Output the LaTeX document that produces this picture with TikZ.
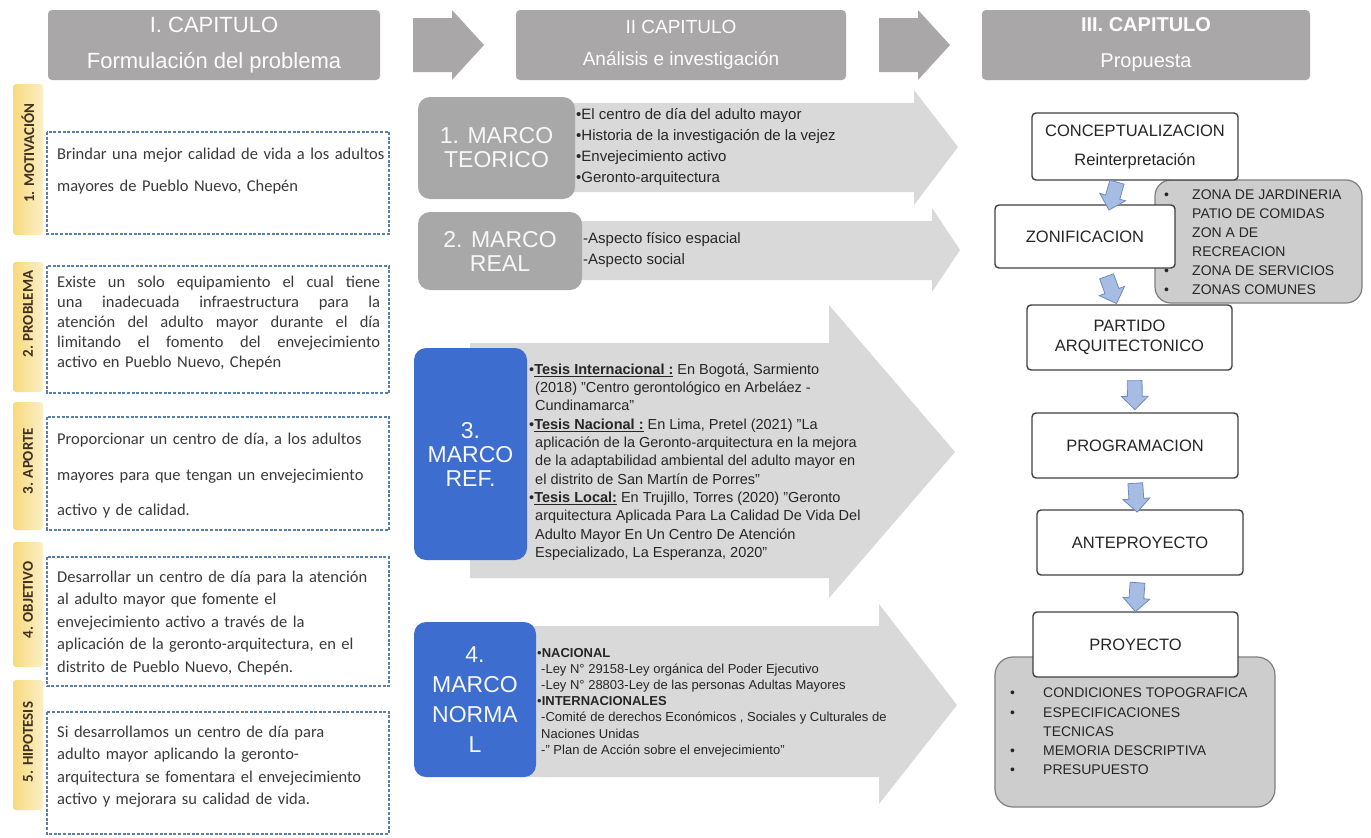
\documentclass[tikz,border=0pt]{standalone}
\usepackage{fontspec}
\setmainfont{Liberation Sans}
\newfontfamily\calib{Carlito}
\usetikzlibrary{shapes.arrows,calc}
\definecolor{hdrgray}{HTML}{A9A7A7}
\definecolor{mgray}{HTML}{A8A8A8}
\definecolor{mblue}{HTML}{3D6DCE}
\definecolor{lgray}{HTML}{D9D9D9}
\definecolor{tabyel}{HTML}{F8D97C}
\definecolor{tabyel2}{HTML}{FCEFC8}
\definecolor{dashcol}{HTML}{5C7EA6}
\definecolor{zgray}{HTML}{CDCDCD}
\definecolor{zborder}{HTML}{7F7F7F}
\definecolor{afill}{HTML}{A7BCE3}
\definecolor{adraw}{HTML}{6E8BC0}
\definecolor{txt}{HTML}{262626}
\definecolor{ltxt}{HTML}{3A3A3A}
\definecolor{tabtxt}{HTML}{3B3222}
\newcommand\jl[1]{\makebox[323pt][l]{#1}}
\begin{document}
\begin{tikzpicture}[x=1pt,y=-1pt,
  hdr/.style={fill=hdrgray, rounded corners=4pt, minimum height=70pt, text=white, align=center, inner sep=0pt},
  mbox/.style={fill=mgray, rounded corners=12pt, text=white!94!gray, align=center, inner sep=0pt, font=\fontsize{23}{24}\selectfont},
  mboxb/.style={mbox, fill=mblue},
  bigarrow/.style={fill=lgray},
  tabbox/.style={rounded corners=3pt, left color=tabyel, right color=tabyel2},
  tablbl/.style={rotate=90, font=\calib\bfseries\fontsize{15}{15}\selectfont, text=tabtxt, inner sep=0pt},
  dbox/.style={draw=dashcol, dash pattern=on 3pt off 1.6pt, line width=1.3pt},
  ltext/.style={anchor=west, align=left, inner sep=0pt, text width=335pt, text=ltxt},
  mtext/.style={anchor=west, align=left, inner sep=0pt, text=txt},
  rbox/.style={draw=black!75, line width=1.4pt, fill=white, rounded corners=4pt, align=center, inner sep=0pt, text=txt, font=\fontsize{16.5}{20}\selectfont},
  zbox/.style={draw=zborder, line width=1.2pt, fill=zgray, rounded corners=16pt},
  barrow/.style={single arrow, fill=afill, draw=adraw, line width=0.8pt, minimum height=29pt, minimum width=26pt, single arrow head extend=6pt, single arrow head indent=0pt, inner xsep=0pt, inner ysep=7pt}
]
\useasboundingbox (0,0) rectangle (1371,838);
\fill[white] (0,0) rectangle (1371,838);

% ---------- headers ----------
\node[hdr, minimum width=332pt, font=\fontsize{22}{36}\selectfont] (h1) at (214,45) {I. CAPITULO\\Formulación del problema};
\node[hdr, minimum width=330pt, font=\fontsize{19}{32}\selectfont] (h2) at (681,45) {II CAPITULO\\Análisis e investigación};
\node[hdr, minimum width=328pt, font=\fontsize{20}{36}\selectfont] (h3) at (1146,45) {\textbf{III. CAPITULO}\\Propuesta};
\fill[hdrgray] (413,18) -- (452,18) -- (452,10) -- (484,45) -- (452,80) -- (452,72) -- (413,72) -- cycle;
\fill[hdrgray] (879,18) -- (918,18) -- (918,10) -- (950,45) -- (918,80) -- (918,72) -- (879,72) -- cycle;

% ---------- left column ----------
\path[tabbox] (13,84) rectangle (43,235);
\path[tabbox] (13,262) rectangle (43,392);
\path[tabbox] (13,402) rectangle (43,530);
\path[tabbox] (13,542) rectangle (43,667);
\path[tabbox] (13,680) rectangle (43,810);
\node[tablbl] (l1) at (28,153) {1. MOTIVACIÓN};
\node[tablbl] (l2) at (28,314) {2. PROBLEMA};
\node[tablbl] (l3) at (28,461) {3. APORTE};
\node[tablbl] (l4) at (28,600) {4. OBJETIVO};
\node[tablbl] (l5) at (28,742) {5. HIPOTESIS};

\draw[dbox] (47,132) rectangle (389,234);
\draw[dbox] (47,266) rectangle (389,393);
\draw[dbox] (47,417) rectangle (389,530);
\draw[dbox] (47,557) rectangle (389,686);
\draw[dbox] (47,712) rectangle (389,834);

\node[ltext, font=\calib\fontsize{16.5}{32}\selectfont] (b1) at (57,171) {\jl{Brindar \hfill una \hfill mejor \hfill calidad \hfill de \hfill vida \hfill a \hfill los \hfill adultos}\\mayores de Pueblo Nuevo, Chepén};
\node[ltext, font=\calib\fontsize{16.5}{20}\selectfont] (b2) at (57,323) {\jl{Existe \hfill un \hfill solo \hfill equipamiento \hfill el \hfill cual \hfill tiene}\\
\jl{una \hfill inadecuada \hfill infraestructura \hfill para \hfill la}\\
\jl{atención \hfill del \hfill adulto \hfill mayor \hfill durante \hfill el \hfill día}\\
\jl{limitando \hfill el \hfill fomento \hfill del \hfill envejecimiento}\\
activo en Pueblo Nuevo, Chepén};
\node[ltext, font=\calib\fontsize{16.5}{35.5}\selectfont] (b3) at (57,476) {Proporcionar un centro de día, a los adultos\\mayores para que tengan un envejecimiento\\activo y de calidad.};
\node[ltext, font=\calib\fontsize{16.5}{22.5}\selectfont] (b4) at (57,623) {Desarrollar un centro de día para la atención\\al adulto mayor que fomente el\\envejecimiento activo a través de la\\aplicación de la geronto-arquitectura, en el\\distrito de Pueblo Nuevo, Chepén.};
\node[ltext, font=\calib\fontsize{16.5}{22.5}\selectfont] (b5) at (57,766.5) {Si desarrollamos un centro de día para\\adulto mayor aplicando la geronto-\\arquitectura se fomentara el envejecimiento\\activo y mejorara su calidad de vida.};

% ---------- middle column ----------
\fill[bigarrow] (500,103) -- (914,103) -- (914,90) -- (958,147) -- (914,205) -- (914,192) -- (500,192) -- cycle;
\fill[bigarrow] (500,221) -- (932,221) -- (932,208) -- (960,250) -- (932,292) -- (932,280) -- (500,280) -- cycle;
\fill[bigarrow] (470,343) -- (829,343) -- (829,305) -- (955,452) -- (829,598) -- (829,578) -- (470,578) -- cycle;
\fill[bigarrow] (475,626) -- (879,626) -- (879,604) -- (957,705) -- (879,804) -- (879,777) -- (475,777) -- cycle;

\node[mbox, minimum width=157pt, minimum height=102pt] (m1) at (496.5,148) {1. MARCO\\TEORICO};
\node[mbox, minimum width=164pt, minimum height=78pt] (m2) at (500,251) {2. MARCO\\REAL};
\node[mboxb, minimum width=113pt, minimum height=212pt] (m3) at (470.5,454) {3.\\MARCO\\REF.};
\node[mboxb, minimum width=122pt, minimum height=155pt, font=\fontsize{23}{30}\selectfont] (m4) at (475,699.5) {4.\\MARCO\\NORMA\\L};

\node[mtext, font=\fontsize{15}{21}\selectfont] (t1) at (576,147) {•El centro de día del adulto mayor\\•Historia de la investigación de la vejez\\•Envejecimiento activo\\•Geronto-arquitectura};
\node[mtext, font=\fontsize{15}{21}\selectfont] (t2) at (583,250) {-Aspecto físico espacial\\-Aspecto social};
\node[mtext, font=\fontsize{14.5}{18.3}\selectfont] (t3) at (529,462) {•\underline{\textbf{Tesis Internacional :}} En Bogotá, Sarmiento\\
\hspace*{6pt}(2018) "Centro gerontológico en Arbeláez -\\
\hspace*{6pt}Cundinamarca"\\
•\underline{\textbf{Tesis Nacional :}} En Lima, Pretel (2021) "La\\
\hspace*{6pt}aplicación de la Geronto-arquitectura en la mejora\\
\hspace*{6pt}de la adaptabilidad ambiental del adulto mayor en\\
\hspace*{6pt}el distrito de San Martín de Porres"\\
•\underline{\textbf{Tesis Local:}} En Trujillo, Torres (2020) "Geronto\\
\hspace*{6pt}arquitectura Aplicada Para La Calidad De Vida Del\\
\hspace*{6pt}Adulto Mayor En Un Centro De Atención\\
\hspace*{6pt}Especializado, La Esperanza, 2020"};
\node[mtext, font=\fontsize{13}{16.2}\selectfont] (t4) at (537,702.5) {•\textbf{NACIONAL}\\
\hspace*{4pt}-Ley N° 29158-Ley orgánica del Poder Ejecutivo\\
\hspace*{4pt}-Ley N° 28803-Ley de las personas Adultas Mayores\\
•\textbf{INTERNACIONALES}\\
\hspace*{4pt}-Comité de derechos Económicos , Sociales y Culturales de\\
\hspace*{4pt}Naciones Unidas\\
\hspace*{4pt}-" Plan de Acción sobre el envejecimiento"};

% ---------- right column ----------
\node[zbox, minimum width=207pt, minimum height=123pt] (zg) at (1258.5,241.5) {};
\node[mtext, font=\fontsize{14}{19}\selectfont] (zt) at (1164,242.5) {\makebox[28pt][l]{•}ZONA DE JARDINERIA\\\makebox[28pt][l]{•}PATIO DE COMIDAS\\\makebox[28pt][l]{•}ZON A DE\\\hspace*{28pt}RECREACION\\\makebox[28pt][l]{•}ZONA DE SERVICIOS\\\makebox[28pt][l]{•}ZONAS COMUNES};
\node[zbox, minimum width=280pt, minimum height=150pt, rounded corners=18pt] (pg) at (1135,732) {};
\node[mtext, font=\fontsize{14}{19.25}\selectfont] (pt) at (1010,731.5) {\makebox[33pt][l]{•}CONDICIONES TOPOGRAFICA\\\makebox[33pt][l]{•}ESPECIFICACIONES\\\hspace*{33pt}TECNICAS\\\makebox[33pt][l]{•}MEMORIA DESCRIPTIVA\\\makebox[33pt][l]{•}PRESUPUESTO};

\node[rbox, minimum width=206pt, minimum height=67pt, font=\fontsize{16.5}{29}\selectfont] (c1) at (1135,146.5) {CONCEPTUALIZACION\\Reinterpretación};
\node[rbox, minimum width=180pt, minimum height=63pt] (z1) at (1085,236.5) {ZONIFICACION};
\node[rbox, minimum width=205pt, minimum height=65pt] (p1) at (1129.5,337.5) {PARTIDO\\ARQUITECTONICO};
\node[rbox, minimum width=206pt, minimum height=65pt] (g1) at (1135,445.5) {PROGRAMACION};
\node[rbox, minimum width=206pt, minimum height=65pt] (a1) at (1140,542.5) {ANTEPROYECTO};
\node[rbox, minimum width=205pt, minimum height=65pt] (y1) at (1135.5,644.5) {PROYECTO};

\path ($(c1.south)+(-17,-2)$) -- ($(z1.north)+(25,2)$) node[barrow, midway, sloped, allow upside down] {};
\path ($(z1.south)+(18,-2)$) -- ($(p1.north)+(-12,2)$) node[barrow, midway, sloped, allow upside down] {};
\path ($(p1.south)+(5,-6)$) -- ($(g1.north)+(0,6)$) node[barrow, midway, sloped, allow upside down] {};
\path (g1.south) -- ($(a1.north)+(-3,0)$) node[barrow, midway, sloped, allow upside down] {};
\path ($(a1.south)+(-2,0)$) -- (y1.north) node[barrow, midway, sloped, allow upside down] {};
\end{tikzpicture}
\end{document}
